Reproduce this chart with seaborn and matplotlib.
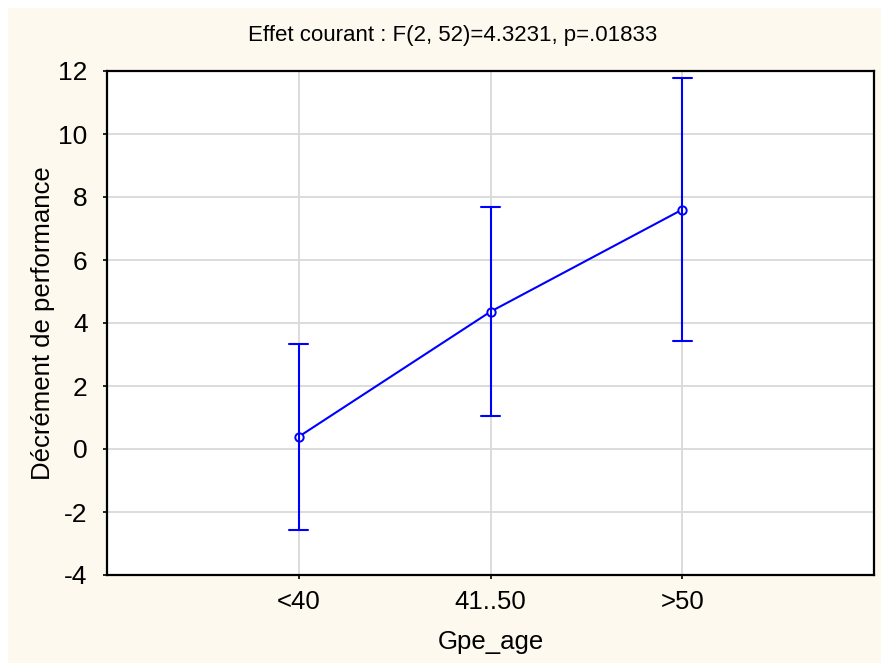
import matplotlib
matplotlib.use("Agg")
import matplotlib.pyplot as plt
from matplotlib.patches import Rectangle
import seaborn as sns
import pandas as pd
import numpy as np

# ---- data ----
categories = ["<40", "41..50", ">50"]
means = [0.39, 4.36, 7.60]
lower = [-2.57, 1.06, 3.42]
upper = [3.33, 7.67, 11.77]
y_ticks = [-4, -2, 0, 2, 4, 6, 8, 10, 12]
title = "Effet courant : F(2, 52)=4.3231, p=.01833"
xlabel = "Gpe_age"
ylabel = "Décrément de performance"

sns.set_theme(style="white")
plt.rcParams["font.family"] = ["Liberation Sans", "DejaVu Sans"]
plt.rcParams["text.color"] = "black"
plt.rcParams["axes.labelcolor"] = "black"
plt.rcParams["xtick.color"] = "black"
plt.rcParams["ytick.color"] = "black"

W, H = 881, 666
fig = plt.figure(figsize=(W / 100, H / 100), dpi=100, facecolor="white")
fig.patches.append(Rectangle((8 / W, 3 / H), (W - 8) / W, (H - 3 - 8) / H,
                             transform=fig.transFigure, facecolor="#FEF9EE",
                             edgecolor="none", zorder=-10))
ax = fig.add_axes([107 / W, (H - 575) / H, (874 - 107) / W, (575 - 71) / H])
ax.set_facecolor("white")

# long table: lower / mean / upper per category -> median = mean, 100% interval = bounds
rows = []
for c, lo, m, hi in zip(categories, lower, means, upper):
    for v in (lo, m, hi):
        rows.append({"Gpe_age": c, "val": v})
df = pd.DataFrame(rows)

sns.pointplot(data=df, x="Gpe_age", y="val", order=categories,
              estimator="median", errorbar=("pi", 100),
              color="#0000FF", markers="o", markersize=6,
              markerfacecolor="white", markeredgewidth=1.4,
              linewidth=1.5, capsize=0.1,
              err_kws={"linewidth": 1.5}, ax=ax)

ax.set_xlim(-1, 3)
ax.set_ylim(-4, 12)
ax.set_yticks(y_ticks)
ax.set_yticklabels([str(t) for t in y_ticks])
ax.grid(True, color="#D9D9D9", linewidth=1.3)
ax.set_axisbelow(True)
for s in ax.spines.values():
    s.set_color("black")
    s.set_linewidth(1.6)
    s.set_visible(True)
ax.tick_params(axis="both", which="both", direction="out", length=3, width=1.2,
               color="black", labelcolor="black", labelsize=18.5,
               left=True, bottom=True)
ax.tick_params(axis="y", pad=11, labelsize=19)
ax.tick_params(axis="x", pad=8)
ax.set_xlabel(xlabel, fontsize=18.5, labelpad=11, color="black")
ax.set_ylabel(ylabel, fontsize=18.5, labelpad=2, color="black")
fig.text(453 / W, 1 - 35 / H, title, ha="center", va="center",
         fontsize=16, color="black")

fig.savefig("out.png", dpi=100, facecolor=fig.get_facecolor())
